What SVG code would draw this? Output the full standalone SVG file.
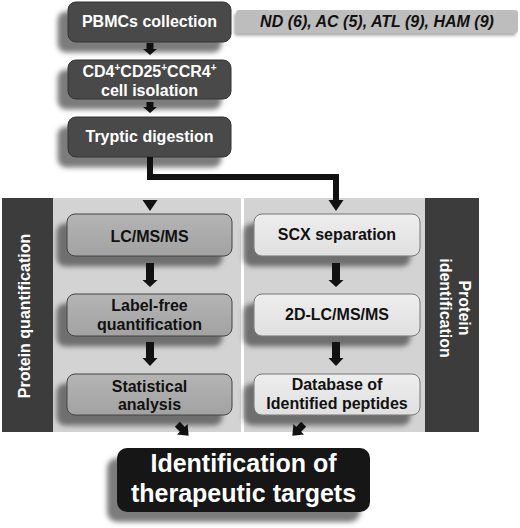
<svg xmlns="http://www.w3.org/2000/svg" width="520" height="528" viewBox="0 0 520 528">
<defs>
<filter id="sh" x="-20%" y="-30%" width="140%" height="170%">
<feGaussianBlur in="SourceAlpha" stdDeviation="2.5"/>
<feOffset dx="-10" dy="10" result="b"/>
<feFlood flood-color="#444" flood-opacity="0.7"/>
<feComposite in2="b" operator="in"/>
<feMerge><feMergeNode/><feMergeNode in="SourceGraphic"/></feMerge>
</filter>
<filter id="sh2" x="-10%" y="-30%" width="120%" height="170%">
<feGaussianBlur in="SourceAlpha" stdDeviation="1.5"/>
<feOffset dx="-2" dy="3" result="b"/>
<feFlood flood-color="#666" flood-opacity="0.5"/>
<feComposite in2="b" operator="in"/>
<feMerge><feMergeNode/><feMergeNode in="SourceGraphic"/></feMerge>
</filter>
<linearGradient id="gmid" x1="0" y1="0" x2="0" y2="1">
<stop offset="0" stop-color="#b4b4b4"/><stop offset="1" stop-color="#a2a2a2"/>
</linearGradient>
<linearGradient id="glight" x1="0" y1="0" x2="0" y2="1">
<stop offset="0" stop-color="#ededed"/><stop offset="1" stop-color="#e0e0e0"/>
</linearGradient>
</defs>
<style>
text{font-family:"Liberation Sans",Arial,sans-serif;font-weight:bold;}
.dark rect{fill:#4a4a4a;stroke:#333;stroke-width:1;filter:url(#sh);}
.dark text{fill:#fff;font-size:16px;text-anchor:middle;}
.mid rect{fill:url(#gmid);stroke:#444;stroke-width:1;filter:url(#sh);}
.light rect{fill:url(#glight);stroke:#777;stroke-width:1;filter:url(#sh);}
.mid text,.light text{fill:#111;font-size:16px;text-anchor:middle;}
.bar{fill:#3c3c3c;}
.panel{fill:#d3d3d3;}
.bartext{fill:#fff;font-size:16px;text-anchor:middle;}
.arr{fill:#111;}
</style>
<rect width="520" height="528" fill="#fff"/>

<g id="panels">
<rect class="panel" x="53" y="198" width="188" height="234"/>
<rect class="panel" x="244" y="198" width="181" height="234"/>
<rect class="bar" x="2" y="198" width="51" height="234"/>
<rect class="bar" x="425" y="198" width="54" height="234"/>
<text class="bartext" transform="translate(30,316) rotate(-90)">Protein quantification</text>
<text class="bartext" transform="translate(459,308) rotate(90)"><tspan x="0" y="0">Protein</tspan><tspan x="0" y="19">identification</tspan></text>
</g>

<g id="groups-label">
<rect x="236" y="10" width="282" height="23" rx="3" fill="#bdbdbd" filter="url(#sh2)"/>
<text x="377" y="27" font-size="16" font-style="italic" text-anchor="middle" fill="#111">ND (6), AC (5), ATL (9), HAM (9)</text>
</g>

<g id="pbmcs" class="dark">
<rect x="68" y="2" width="163" height="40" rx="8"/>
<text x="149.5" y="27">PBMCs collection</text>
</g>
<g id="isolation" class="dark">
<rect x="68" y="60" width="163" height="39" rx="8"/>
<text x="149.5" y="77">CD4<tspan font-size="10" dy="-6">+</tspan><tspan dy="6">CD25</tspan><tspan font-size="10" dy="-6">+</tspan><tspan dy="6">CCR4</tspan><tspan font-size="10" dy="-6">+</tspan></text>
<text x="149.5" y="96">cell isolation</text>
</g>
<g id="tryptic" class="dark">
<rect x="68" y="117" width="163" height="40" rx="8"/>
<text x="149.5" y="142">Tryptic digestion</text>
</g>

<g id="lcmsms" class="mid">
<rect x="67" y="214" width="165" height="42" rx="8"/>
<text x="149.5" y="242">LC/MS/MS</text>
</g>
<g id="labelfree" class="mid">
<rect x="67" y="294" width="165" height="42" rx="8"/>
<text x="149.5" y="311">Label-free</text>
<text x="149.5" y="330">quantification</text>
</g>
<g id="statistical" class="mid">
<rect x="67" y="374" width="165" height="41" rx="8"/>
<text x="149.5" y="392">Statistical</text>
<text x="149.5" y="410">analysis</text>
</g>

<g id="scx" class="light">
<rect x="254" y="214" width="166" height="42" rx="8"/>
<text x="337" y="240">SCX separation</text>
</g>
<g id="lc2d" class="light">
<rect x="254" y="294" width="166" height="42" rx="8"/>
<text x="337" y="320">2D-LC/MS/MS</text>
</g>
<g id="database" class="light">
<rect x="254" y="374" width="166" height="41" rx="8"/>
<text x="337" y="390">Database of</text>
<text x="337" y="409">Identified peptides</text>
</g>

<g id="targets">
<rect x="117" y="448" width="253" height="64" rx="10" fill="#141414" filter="url(#sh)"/>
<text x="243.5" y="472" font-size="25" fill="#fff" text-anchor="middle">Identification of</text>
<text x="243.5" y="502" font-size="25" fill="#fff" text-anchor="middle">therapeutic targets</text>
</g>

<g id="connectors">
<polygon class="arr" points="146.5,43 153.5,43 153.5,49 157,49 150,55 143,49 146.5,49"/>
<polygon class="arr" points="146.5,102 153.5,102 153.5,107 157,107 150,113 143,107 146.5,107"/>
<path d="M150,157 V177 H336 V200" fill="none" stroke="#111" stroke-width="6"/>
<polygon class="arr" points="142.5,200 157.5,200 150,211"/>
<polygon class="arr" points="328.5,200 343.5,200 336,211"/>
<polygon class="arr" points="146,263 154,263 154,280 157.5,280 150,287 142.5,280 146,280"/>
<polygon class="arr" points="146,342 154,342 154,358 157.5,358 150,366 142.5,358 146,358"/>
<polygon class="arr" points="332,263 340,263 340,280 343.5,280 336,287 328.5,280 332,280"/>
<polygon class="arr" points="332,342 340,342 340,358 343.5,358 336,366 328.5,358 332,358"/>
<polygon class="arr" transform="translate(183,430) rotate(-45)" points="-3.5,-8 3.5,-8 3.5,-1 7.5,-1 0,8 -7.5,-1 -3.5,-1"/>
<polygon class="arr" transform="translate(298,430) rotate(45)" points="-3.5,-8 3.5,-8 3.5,-1 7.5,-1 0,8 -7.5,-1 -3.5,-1"/>
</g>
</svg>
